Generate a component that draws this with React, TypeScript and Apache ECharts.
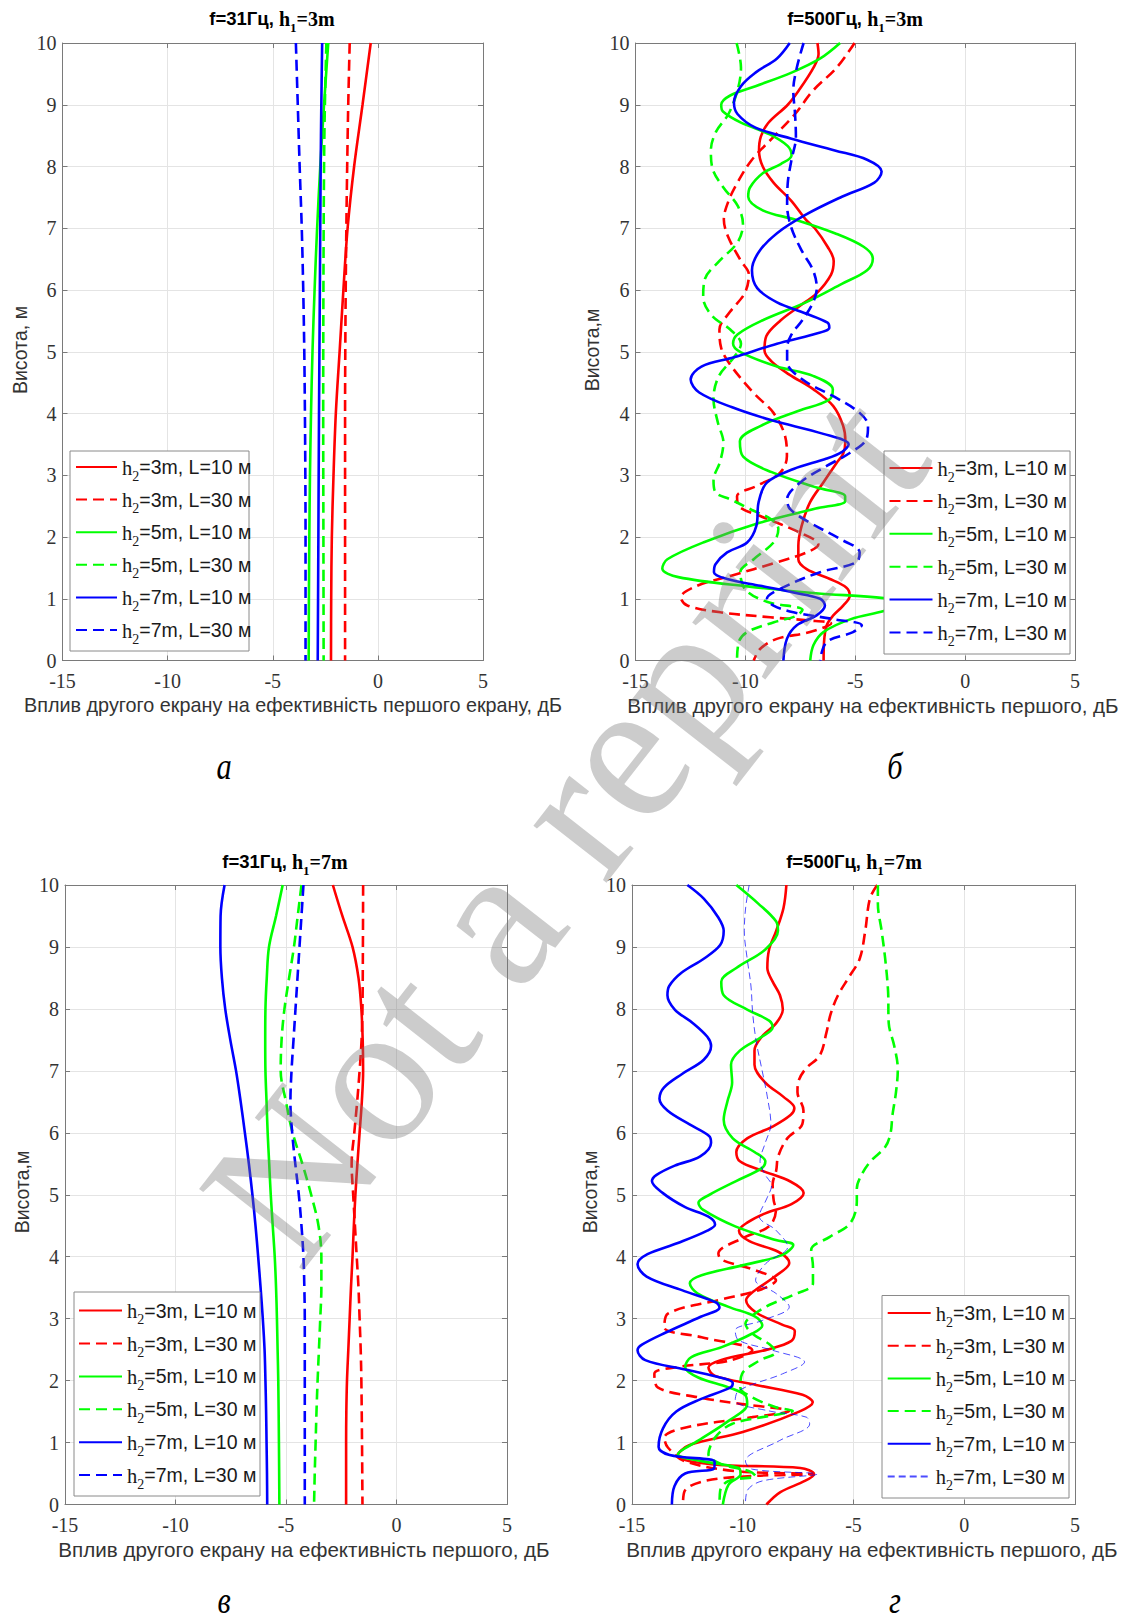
import React, { useEffect, useRef } from 'react';
import * as echarts from 'echarts';

type Pt = [number, number]; // [dB, height m]

// ---------- axis ticks ----------
const X_MIN = -15, X_MAX = 5, X_STEP = 5;
const Y_MIN = 0, Y_MAX = 10, Y_STEP = 1;

// ---------- legend labels: [h2, L] ----------
const LEGEND_H2 = ['3', '3', '5', '5', '7', '7'];
const LEGEND_L = ['10', '30', '10', '30', '10', '30'];

// ---------- panel а : f=31 Hz, h1=3 m ----------
const aR10: Pt[] = [[-0.34,10],[-0.73,9],[-1.13,8],[-1.44,7],[-1.64,6],[-1.82,5],[-2.0,4],[-2.11,3],[-2.19,2],[-2.22,1],[-2.23,0]];
const aR30: Pt[] = [[-1.34,10],[-1.41,9],[-1.46,8],[-1.5,7],[-1.53,6],[-1.55,5],[-1.56,4],[-1.56,3],[-1.56,2],[-1.56,1],[-1.56,0]];
const aG10: Pt[] = [[-2.36,10],[-2.56,9],[-2.74,8],[-2.89,7],[-3.01,6],[-3.11,5],[-3.18,4],[-3.23,3],[-3.26,2],[-3.28,1],[-3.29,0]];
const aG30: Pt[] = [[-2.45,10],[-2.52,9],[-2.56,8],[-2.59,6],[-2.6,4],[-2.59,2],[-2.58,0]];
const aB10: Pt[] = [[-2.65,10],[-2.69,9],[-2.72,8],[-2.76,6],[-2.8,4],[-2.83,2],[-2.86,0]];
const aB30: Pt[] = [[-3.9,10],[-3.81,9],[-3.72,8],[-3.62,7],[-3.55,6],[-3.5,5],[-3.47,4],[-3.45,3],[-3.44,2],[-3.44,0]];

// ---------- panel б : f=500 Hz, h1=3 m ----------
const bR10: Pt[] = [[-6.72,10],[-6.67,9.82],[-6.9,9.6],[-7.57,9.23],[-8.07,9.0],[-8.97,8.7],[-9.3,8.48],[-9.38,8.26],[-9.21,8.0],[-8.72,7.74],[-7.9,7.44],[-7.25,7.14],[-6.84,7.0],[-6.26,6.7],[-5.98,6.47],[-6.1,6.25],[-6.75,5.95],[-7.57,5.73],[-8.39,5.51],[-9.05,5.25],[-9.13,5.02],[-8.8,4.84],[-8.0,4.63],[-6.9,4.39],[-6.0,4.12],[-5.55,3.8],[-5.45,3.55],[-5.55,3.35],[-5.85,3.2],[-6.46,2.88],[-7.06,2.56],[-7.44,2.18],[-7.59,1.86],[-7.59,1.64],[-7.21,1.48],[-6.15,1.32],[-5.4,1.18],[-5.25,1.05],[-5.55,0.89],[-6.0,0.73],[-6.3,0.57],[-6.42,0.3],[-6.44,0]];
const bR30: Pt[] = [[-5.03,10],[-5.85,9.6],[-6.92,9.23],[-7.74,8.85],[-8.72,8.48],[-9.7,8.11],[-10.36,7.74],[-10.77,7.44],[-10.98,7.14],[-10.77,6.85],[-10.2,6.47],[-9.84,6.25],[-10.03,5.95],[-10.69,5.65],[-11.18,5.36],[-11.1,5.06],[-10.69,4.79],[-9.62,4.33],[-8.72,4.01],[-8.19,3.63],[-8.11,3.31],[-8.42,3.04],[-9.47,2.83],[-10.38,2.66],[-10.3,2.5],[-9.32,2.34],[-7.51,2.07],[-6.68,1.88],[-7.21,1.75],[-8.57,1.59],[-10.68,1.37],[-12.19,1.21],[-12.94,1.02],[-12.64,0.89],[-11.13,0.78],[-8.87,0.7],[-7.2,0.65],[-6.1,0.6],[-7.06,0.46],[-8.57,0.35],[-9.32,0.19],[-9.62,0]];
const bG10: Pt[] = [[-5.69,10],[-6.59,9.75],[-7.9,9.52],[-9.54,9.3],[-10.69,9.15],[-11.1,9.0],[-11.02,8.89],[-10.2,8.71],[-8.89,8.52],[-8.07,8.33],[-7.9,8.18],[-8.39,8.04],[-9.21,7.89],[-9.79,7.66],[-9.87,7.51],[-9.21,7.29],[-7.74,7.14],[-5.93,6.92],[-4.62,6.7],[-4.2,6.51],[-4.46,6.32],[-5.61,6.1],[-7.25,5.8],[-9.21,5.51],[-10.36,5.28],[-10.56,5.13],[-10.2,4.99],[-8.56,4.76],[-6.92,4.61],[-6.02,4.39],[-6.2,4.22],[-7.6,4.04],[-9.3,3.8],[-10.25,3.55],[-10.1,3.3],[-8.8,3.05],[-6.75,2.8],[-5.46,2.66],[-5.46,2.58],[-6.8,2.46],[-9.35,2.23],[-11.86,1.92],[-13.55,1.64],[-13.78,1.49],[-13.05,1.35],[-9.9,1.2],[-6.8,1.09],[-3.7,1.01],[-2.7,0.93],[-3.7,0.8],[-5.2,0.67],[-6.45,0.46],[-6.9,0.25],[-7.05,0]];
const bG30: Pt[] = [[-10.4,10],[-10.2,9.6],[-10.36,9.23],[-10.77,8.85],[-11.34,8.56],[-11.57,8.26],[-11.49,7.96],[-11.0,7.66],[-10.36,7.37],[-10.11,7.07],[-10.36,6.77],[-11.18,6.47],[-11.84,6.18],[-11.92,5.88],[-11.51,5.58],[-10.69,5.36],[-10.2,5.13],[-10.52,4.91],[-11.2,4.61],[-11.45,4.24],[-11.25,3.85],[-11.0,3.53],[-11.15,3.22],[-11.45,2.92],[-11.35,2.72],[-10.68,2.61],[-9.77,2.45],[-8.8,2.28],[-8.5,2.13],[-8.7,1.92],[-9.62,1.64],[-10.23,1.43],[-10.0,1.15],[-9.02,0.95],[-7.4,0.82],[-7.7,0.72],[-8.7,0.62],[-9.92,0.46],[-10.3,0.3],[-10.38,0]];
const bB10: Pt[] = [[-7.98,10],[-8.56,9.75],[-9.54,9.52],[-10.2,9.3],[-10.52,9.04],[-10.36,8.85],[-9.54,8.63],[-7.9,8.45],[-5.93,8.26],[-4.46,8.11],[-3.8,7.92],[-4.13,7.74],[-5.61,7.51],[-7.25,7.22],[-8.56,6.92],[-9.38,6.62],[-9.7,6.32],[-9.46,6.03],[-8.56,5.8],[-7.25,5.62],[-6.26,5.47],[-6.18,5.39],[-6.92,5.28],[-8.56,5.13],[-10.52,4.91],[-12.0,4.76],[-12.49,4.55],[-12.1,4.34],[-10.6,4.1],[-8.8,3.89],[-6.45,3.67],[-5.3,3.5],[-5.6,3.38],[-6.3,3.27],[-7.81,3.1],[-9.02,2.88],[-9.4,2.56],[-9.5,2.18],[-9.92,1.91],[-10.83,1.75],[-11.36,1.56],[-11.43,1.43],[-10.83,1.32],[-9.32,1.21],[-7.81,1.1],[-6.6,1.0],[-6.38,0.89],[-6.76,0.73],[-7.66,0.57],[-8.11,0.35],[-8.27,0]];
const bB30: Pt[] = [[-7.35,10],[-7.66,9.6],[-7.82,9.23],[-7.74,8.85],[-7.7,8.48],[-7.9,8.11],[-8.07,7.74],[-8.1,7.37],[-7.9,7.0],[-7.41,6.62],[-6.92,6.32],[-6.75,6.03],[-6.92,5.8],[-7.41,5.51],[-7.9,5.28],[-8.1,5.06],[-8.1,4.84],[-7.4,4.55],[-6.0,4.28],[-4.8,4.01],[-4.42,3.8],[-4.5,3.58],[-5.25,3.36],[-6.3,3.15],[-7.51,2.88],[-8.1,2.61],[-7.96,2.45],[-7.06,2.23],[-5.7,1.97],[-4.8,1.75],[-4.95,1.59],[-6.6,1.43],[-8.42,1.16],[-9.02,1.0],[-8.72,0.89],[-7.81,0.78],[-6.0,0.67],[-4.7,0.57],[-5.1,0.46],[-6.3,0.3],[-6.6,0]];

// ---------- panel в : f=31 Hz, h1=7 m ----------
const vR10: Pt[] = [[-2.88,10],[-2.45,9.5],[-1.99,9],[-1.72,8.5],[-1.59,8],[-1.53,7.5],[-1.51,7],[-1.57,6.5],[-1.67,6],[-1.77,5.5],[-1.86,5],[-1.93,4.5],[-1.99,4],[-2.06,3.5],[-2.12,3],[-2.18,2.5],[-2.24,2],[-2.27,1.5],[-2.28,1],[-2.28,0]];
const vR30: Pt[] = [[-1.51,10],[-1.52,9],[-1.54,8],[-1.58,7.5],[-1.67,7],[-1.78,6.5],[-1.91,6],[-2.03,5.5],[-1.96,5],[-1.88,4.5],[-1.8,4],[-1.72,3.5],[-1.67,3],[-1.62,2.5],[-1.59,2],[-1.56,1],[-1.54,0]];
const vG10: Pt[] = [[-5.15,10],[-5.45,9.5],[-5.77,9],[-5.87,8.5],[-5.93,8],[-5.94,7.5],[-5.93,7],[-5.88,6.5],[-5.83,6],[-5.76,5.5],[-5.69,5],[-5.6,4.5],[-5.51,4],[-5.45,3.5],[-5.41,3],[-5.38,2.5],[-5.35,2],[-5.32,1],[-5.3,0]];
const vG30: Pt[] = [[-4.3,10],[-4.47,9.5],[-4.64,9],[-4.86,8.5],[-5.07,8],[-5.2,7.5],[-5.24,7],[-5.0,6.5],[-4.7,6],[-4.26,5.5],[-3.86,5],[-3.53,4.5],[-3.4,4],[-3.4,3.5],[-3.45,3],[-3.51,2.5],[-3.57,2],[-3.62,1.5],[-3.66,1],[-3.7,0.5],[-3.73,0]];
const vB10: Pt[] = [[-7.78,10],[-7.96,9.5],[-7.97,9],[-7.9,8.5],[-7.75,8],[-7.52,7.5],[-7.26,7],[-7.05,6.5],[-6.86,6],[-6.68,5.5],[-6.52,5],[-6.38,4.5],[-6.26,4],[-6.15,3.5],[-6.05,3],[-5.97,2.5],[-5.93,2],[-5.9,1.5],[-5.88,1],[-5.86,0.5],[-5.85,0]];
const vB30: Pt[] = [[-4.21,10],[-4.3,9.5],[-4.39,9],[-4.48,8.5],[-4.57,8],[-4.66,7.5],[-4.75,7],[-4.8,6.5],[-4.72,6],[-4.58,5.5],[-4.42,5],[-4.3,4.5],[-4.21,4],[-4.17,3.5],[-4.15,3],[-4.15,2],[-4.15,1],[-4.15,0]];

// ---------- panel г : f=500 Hz, h1=7 m ----------
const gR10: Pt[] = [[-8.03,10],[-8.16,9.63],[-8.49,9.26],[-8.81,8.96],[-8.89,8.66],[-8.65,8.44],[-8.32,8.22],[-8.19,7.99],[-8.49,7.77],[-9.14,7.55],[-9.47,7.33],[-9.47,7.1],[-8.98,6.81],[-8.16,6.58],[-7.67,6.4],[-7.83,6.29],[-8.65,6.1],[-9.8,5.91],[-10.29,5.69],[-10.13,5.54],[-9.14,5.39],[-7.83,5.21],[-7.25,5.03],[-7.8,4.85],[-8.98,4.7],[-9.8,4.55],[-10.17,4.42],[-9.7,4.25],[-8.4,4.08],[-7.9,3.9],[-8.55,3.68],[-9.55,3.43],[-9.85,3.3],[-9.4,3.1],[-8.2,2.9],[-7.65,2.8],[-7.8,2.64],[-8.9,2.5],[-11.0,2.33],[-11.55,2.21],[-11.27,2.08],[-9.4,1.93],[-7.3,1.77],[-6.84,1.65],[-7.45,1.5],[-10.0,1.17],[-12.4,0.96],[-12.95,0.79],[-11.43,0.65],[-7.4,0.59],[-6.78,0.49],[-7.2,0.38],[-8.3,0.2],[-8.93,0]];
const gR30: Pt[] = [[-3.93,10],[-4.26,9.78],[-4.47,9.26],[-4.72,8.81],[-5.21,8.51],[-5.7,8.22],[-6.03,7.92],[-6.22,7.62],[-6.52,7.25],[-7.17,7.03],[-7.5,6.81],[-7.53,6.66],[-7.26,6.36],[-7.31,6.14],[-7.99,5.91],[-8.4,5.62],[-8.49,5.39],[-8.65,5.17],[-8.6,4.9],[-8.5,4.76],[-8.81,4.49],[-9.88,4.32],[-11.1,4.05],[-10.95,3.95],[-9.42,3.78],[-8.5,3.62],[-9.27,3.46],[-11.1,3.3],[-13.38,3.08],[-13.54,2.86],[-11.86,2.7],[-9.57,2.49],[-10.64,2.32],[-12.93,2.22],[-13.99,2.11],[-13.84,1.89],[-12.01,1.73],[-10.03,1.62],[-7.9,1.51],[-9.57,1.41],[-12.62,1.24],[-13.54,1.08],[-13.38,0.92],[-12.62,0.7],[-10.34,0.54],[-6.8,0.49],[-9.57,0.46],[-11.71,0.38],[-12.62,0.22],[-12.7,0]];
const gG10: Pt[] = [[-10.29,10],[-9.3,9.7],[-8.49,9.41],[-8.41,9.26],[-8.98,8.96],[-10.29,8.66],[-10.97,8.44],[-10.86,8.22],[-9.8,7.99],[-8.81,7.81],[-8.65,7.7],[-9.14,7.55],[-10.12,7.33],[-10.53,7.1],[-10.48,6.81],[-10.69,6.51],[-10.86,6.21],[-10.45,5.91],[-9.47,5.69],[-8.98,5.54],[-9.14,5.43],[-10.3,5.22],[-11.5,5.0],[-12.0,4.87],[-11.8,4.76],[-10.34,4.49],[-8.51,4.27],[-7.72,4.19],[-8.2,4.03],[-10.03,3.86],[-11.86,3.7],[-12.39,3.57],[-12.05,3.41],[-10.64,3.19],[-9.42,3.03],[-9.12,2.89],[-9.57,2.76],[-10.95,2.54],[-12.32,2.38],[-12.6,2.22],[-12.01,2.05],[-10.64,1.89],[-9.88,1.76],[-9.8,1.62],[-10.64,1.35],[-12.01,1.03],[-12.93,0.81],[-11.86,0.7],[-10.18,0.59],[-10.1,0.49],[-10.64,0.32],[-10.9,0]];
const gG30: Pt[] = [[-3.9,10],[-3.9,9.7],[-3.73,9.26],[-3.57,8.81],[-3.44,8.29],[-3.41,7.77],[-3.16,7.4],[-3.0,7.03],[-3.08,6.66],[-3.24,6.29],[-3.33,5.99],[-3.57,5.77],[-4.23,5.54],[-4.64,5.32],[-4.85,5.1],[-4.85,4.9],[-5.15,4.54],[-6.07,4.32],[-6.91,4.11],[-6.83,3.84],[-6.83,3.57],[-7.74,3.38],[-8.81,3.22],[-9.57,3.05],[-9.88,2.92],[-9.57,2.76],[-8.81,2.59],[-8.51,2.46],[-9.27,2.32],[-10.03,2.11],[-10.11,1.89],[-9.57,1.73],[-8.51,1.57],[-7.74,1.51],[-8.81,1.43],[-10.49,1.3],[-11.25,1.08],[-11.55,0.81],[-10.95,0.65],[-9.73,0.54],[-9.42,0.46],[-10.64,0.38],[-11.02,0.22],[-11.05,0]];
const gB10: Pt[] = [[-12.5,10],[-11.76,9.78],[-11.11,9.48],[-10.86,9.26],[-11.02,9.03],[-11.76,8.81],[-12.74,8.59],[-13.32,8.37],[-13.4,8.22],[-13.07,7.99],[-12.25,7.77],[-11.6,7.55],[-11.43,7.4],[-11.76,7.18],[-12.74,6.95],[-13.56,6.73],[-13.76,6.55],[-13.4,6.36],[-12.42,6.14],[-11.52,5.95],[-11.43,5.84],[-11.92,5.62],[-13.07,5.47],[-13.89,5.32],[-14.1,5.22],[-13.62,5.03],[-12.6,4.8],[-11.57,4.65],[-11.25,4.52],[-11.6,4.42],[-12.93,4.22],[-14.3,4.04],[-14.75,3.88],[-14.34,3.68],[-12.75,3.46],[-11.2,3.26],[-11.05,3.18],[-11.9,3.03],[-13.45,2.78],[-14.55,2.58],[-14.75,2.49],[-14.4,2.33],[-12.6,2.18],[-10.8,2.03],[-10.45,1.96],[-10.55,1.89],[-11.9,1.7],[-13.0,1.5],[-13.6,1.23],[-13.8,0.93],[-13.3,0.8],[-11.27,0.69],[-11.3,0.58],[-12.6,0.5],[-13.08,0.3],[-13.2,0]];
const gB30: Pt[] = [[-9.71,10],[-9.87,9.63],[-9.93,9.26],[-9.8,8.81],[-9.63,8.37],[-9.55,7.92],[-9.39,7.47],[-9.14,7.03],[-8.89,6.58],[-8.73,6.14],[-8.98,5.84],[-9.22,5.54],[-8.98,5.32],[-8.7,5.15],[-8.9,4.95],[-9.25,4.65],[-8.51,4.43],[-7.97,4.16],[-8.96,3.89],[-9.42,3.62],[-8.51,3.41],[-7.9,3.19],[-9.12,2.97],[-10.34,2.81],[-10.18,2.65],[-8.66,2.49],[-7.21,2.3],[-8.2,2.11],[-10.18,1.84],[-10.34,1.68],[-8.81,1.51],[-7.13,1.41],[-6.98,1.3],[-8.35,1.03],[-9.88,0.7],[-9.57,0.57],[-6.65,0.49],[-9.12,0.38],[-9.8,0.22],[-9.88,0]];

// ---------- layout ----------
const W = 1126, H = 1623;
const RED = '#ff0000', GREEN = '#00ff00', BLUE = '#0000ff';
const FRAME = '#7a7a7a';
const GRIDC = '#e4e4e4';
const SANS = '"Liberation Sans", Arial, sans-serif';
const SERIF = '"Liberation Serif", "Times New Roman", serif';

interface Panel {
  key: string;
  grid: { left: number; top: number; width: number; height: number };
  data: Pt[][];
  thinLast?: boolean;
  freq: string; h1: string;
  titlePos: [number, number];
  xName: string; xNameSize: number; xNamePos: [number, number];
  yName: string; yNamePos: [number, number];
  box: { x: number; y: number; w: number; h: number };
  iconLeft: number; iconW: number; firstRow: number; pitch: number;
  letter: string; letterPos: [number, number];
}

const PANELS: Panel[] = [
  {
    key: 'a', grid: { left: 62.5, top: 43, width: 420.5, height: 617.5 },
    data: [aR10, aR30, aG10, aG30, aB10, aB30], freq: '31', h1: '3',
    titlePos: [272, 20],
    xName: 'Вплив другого екрану на ефективність першого екрану, дБ', xNameSize: 19.8, xNamePos: [293, 705],
    yName: 'Висота, м', yNamePos: [20, 350],
    box: { x: 70, y: 451, w: 179, h: 200 }, iconLeft: 75, iconW: 41, firstRow: 467, pitch: 32.8,
    letter: 'а', letterPos: [224, 766],
  },
  {
    key: 'b', grid: { left: 635.5, top: 43, width: 439.5, height: 617.5 },
    data: [bR10, bR30, bG10, bG30, bB10, bB30], freq: '500', h1: '3',
    titlePos: [855, 20],
    xName: 'Вплив другого екрану на ефективність першого, дБ', xNameSize: 20.6, xNamePos: [873, 705],
    yName: 'Висота,м', yNamePos: [592, 350],
    box: { x: 884, y: 451, w: 186, h: 203 }, iconLeft: 888.5, iconW: 43, firstRow: 468, pitch: 33.1,
    letter: 'б', letterPos: [895, 766],
  },
  {
    key: 'v', grid: { left: 65, top: 885, width: 442, height: 619.5 },
    data: [vR10, vR30, vG10, vG30, vB10, vB30], freq: '31', h1: '7',
    titlePos: [285, 863],
    xName: 'Вплив другого екрану на ефективність першого, дБ', xNameSize: 20.6, xNamePos: [304, 1549],
    yName: 'Висота,м', yNamePos: [22, 1192],
    box: { x: 74, y: 1292, w: 186, h: 204 }, iconLeft: 78, iconW: 43, firstRow: 1310.6, pitch: 33.1,
    letter: 'в', letterPos: [224, 1600],
  },
  {
    key: 'g', grid: { left: 632, top: 885, width: 443, height: 619.5 },
    data: [gR10, gR30, gG10, gG30, gB10, gB30], thinLast: true, freq: '500', h1: '7',
    titlePos: [854, 863],
    xName: 'Вплив другого екрану на ефективність першого, дБ', xNameSize: 20.6, xNamePos: [872, 1549],
    yName: 'Висота,м', yNamePos: [590, 1192],
    box: { x: 882, y: 1295.5, w: 187, h: 202.5 }, iconLeft: 886.7, iconW: 43, firstRow: 1313, pitch: 32.9,
    letter: 'г', letterPos: [895, 1600],
  },
];

const COLORS = [RED, RED, GREEN, GREEN, BLUE, BLUE];
const DASHED = [false, true, false, true, false, true];

const legendRich = {
  n: { fontFamily: SERIF, fontSize: 20.5, color: '#1a1a1a', lineHeight: 20, verticalAlign: 'top' },
  s: { fontFamily: SERIF, fontSize: 14, color: '#1a1a1a', lineHeight: 14, verticalAlign: 'top', padding: [12, 0, 0, 0] },
  m: { fontFamily: SANS, fontSize: 19.5, color: '#1a1a1a', lineHeight: 20, verticalAlign: 'top' },
};

const titleRich = {
  a: { fontFamily: SANS, fontWeight: 'bold', fontSize: 18.5, color: '#000', lineHeight: 22, verticalAlign: 'top' },
  b: { fontFamily: SERIF, fontWeight: 'bold', fontSize: 20, color: '#000', lineHeight: 22, verticalAlign: 'top' },
  c: { fontFamily: SERIF, fontWeight: 'bold', fontSize: 13, color: '#000', lineHeight: 13, verticalAlign: 'top', padding: [12, 0, 0, 0] },
};

function buildOption() {
  const grid: any[] = [], xAxis: any[] = [], yAxis: any[] = [], series: any[] = [], legend: any[] = [], graphic: any[] = [];
  const nameMap: Record<string, string> = {};

  PANELS.forEach((p, i) => {
    grid.push({ left: p.grid.left, top: p.grid.top, width: p.grid.width, height: p.grid.height, containLabel: false, show: false });
    const lineCfg = { show: true, onZero: false, lineStyle: { color: FRAME, width: 1 } };
    const tickCfg = { show: true, inside: true, length: 5, lineStyle: { color: FRAME, width: 1 } };
    xAxis.push({
      gridIndex: i, type: 'value', min: X_MIN, max: X_MAX, interval: X_STEP, position: 'bottom',
      axisLine: lineCfg, axisTick: tickCfg,
      axisLabel: { fontFamily: SERIF, fontSize: 20, color: '#333', margin: 10 },
      splitLine: { show: true, lineStyle: { color: GRIDC, width: 1 } },
    });
    xAxis.push({
      gridIndex: i, type: 'value', min: X_MIN, max: X_MAX, interval: X_STEP, position: 'top',
      axisLine: lineCfg, axisTick: tickCfg, axisLabel: { show: false }, splitLine: { show: false },
    });
    yAxis.push({
      gridIndex: i, type: 'value', min: Y_MIN, max: Y_MAX, interval: Y_STEP, position: 'left',
      axisLine: lineCfg, axisTick: tickCfg,
      axisLabel: { fontFamily: SERIF, fontSize: 20, color: '#333', margin: 6 },
      splitLine: { show: true, lineStyle: { color: GRIDC, width: 1 } },
    });
    yAxis.push({
      gridIndex: i, type: 'value', min: Y_MIN, max: Y_MAX, interval: Y_STEP, position: 'right',
      axisLine: lineCfg, axisTick: tickCfg, axisLabel: { show: false }, splitLine: { show: false },
    });

    const names: string[] = [];
    p.data.forEach((d, k) => {
      const name = `${p.key}-${k}`;
      names.push(name);
      nameMap[name] = `{n|h}{s|2}{m|=${LEGEND_H2[k]}m, L=${LEGEND_L[k]} м}`;
      const thin = p.thinLast && k === 5;
      series.push({
        type: 'line', name, xAxisIndex: 2 * i, yAxisIndex: 2 * i, data: d,
        symbol: 'none', showSymbol: false, smooth: 0.35, clip: true, z: 2,
        lineStyle: {
          color: COLORS[k], width: thin ? 1 : 2.6, opacity: thin ? 0.7 : 1,
          type: DASHED[k] ? (thin ? [7, 4] : [11, 6]) : 'solid',
        },
        itemStyle: { color: COLORS[k] },
        emphasis: { disabled: true },
      });
    });

    legend.push({
      orient: 'vertical', left: p.iconLeft, top: p.firstRow - 10, padding: 0,
      itemWidth: p.iconW, itemHeight: 12, itemGap: p.pitch - 26.2,
      data: names, selectedMode: false, itemStyle: { opacity: 0 },
      formatter: (nm: string) => nameMap[nm],
      textStyle: { rich: legendRich }, z: 5,
    });

    // legend frame
    graphic.push({
      type: 'rect', z: 3, shape: { x: p.box.x, y: p.box.y, width: p.box.w, height: p.box.h },
      style: { fill: '#fff', stroke: '#8a8a8a', lineWidth: 1 },
    });
    // title
    graphic.push({
      type: 'text', z: 6, x: p.titlePos[0], y: p.titlePos[1],
      style: {
        text: `{a|f=${p.freq}Гц, }{b|h}{c|1}{b|=${p.h1}m}`, rich: titleRich,
        align: 'center', verticalAlign: 'middle',
      },
    });
    // x axis name
    graphic.push({
      type: 'text', z: 6, x: p.xNamePos[0], y: p.xNamePos[1],
      style: { text: p.xName, font: `${p.xNameSize}px ${SANS}`, fill: '#333', align: 'center', verticalAlign: 'middle' },
    });
    // y axis name
    graphic.push({
      type: 'text', z: 6, x: p.yNamePos[0], y: p.yNamePos[1], rotation: Math.PI / 2,
      style: { text: p.yName, font: `19.5px ${SANS}`, fill: '#333', align: 'center', verticalAlign: 'middle' },
    });
    // panel letter
    graphic.push({
      type: 'text', z: 6, x: p.letterPos[0], y: p.letterPos[1], scaleX: 0.8,
      style: { text: p.letter, font: `italic 38px ${SERIF}`, lineHeight: 30, fill: '#000', align: 'center', verticalAlign: 'middle' },
    });
  });

  // watermark
  const ang = (52 * Math.PI) / 180;
  const em = 202;
  const bx = 300, by = 1275; // baseline start
  graphic.push({
    type: 'text', z: 50,
    x: bx - 0.3375 * em * Math.sin(ang), y: by - 0.3375 * em * Math.cos(ang), rotation: ang,
    style: { text: 'Not a reprint', font: `${em}px ${SERIF}`, fill: 'rgba(120,120,120,0.38)', align: 'left', verticalAlign: 'middle' },
  });

  return {
    animation: false,
    backgroundColor: '#ffffff',
    grid, xAxis, yAxis, series, legend, graphic,
  };
}

export default function App() {
  const ref = useRef<HTMLDivElement>(null);
  useEffect(() => {
    if (!ref.current) return;
    const chart = echarts.init(ref.current, null, { renderer: 'svg', width: W, height: H });
    chart.setOption(buildOption() as any);
    return () => chart.dispose();
  }, []);
  return (
    <div
      ref={ref}
      style={{ position: 'absolute', left: 0, top: 0, width: W, height: H, background: '#fff' }}
    />
  );
}
